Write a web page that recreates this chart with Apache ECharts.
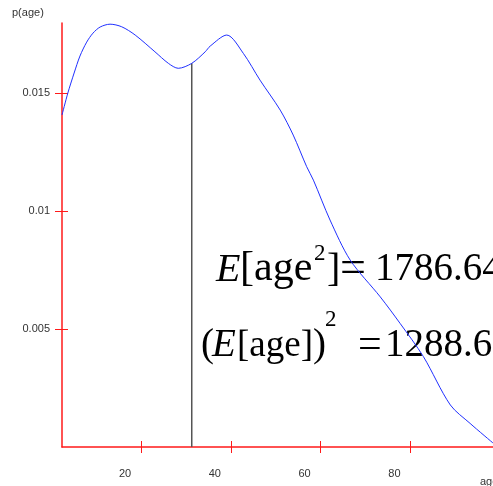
<!DOCTYPE html>
<html>
<head>
<meta charset="utf-8">
<script src="https://cdn.jsdelivr.net/npm/echarts@6/dist/echarts.min.js"></script>
<style>html,body{margin:0;padding:0;background:#fff;}#c{width:493px;height:486px;}</style>
</head>
<body>
<div id="c"></div>
<script>
// ---- data ----
var ageValues = [2.4, 3.7, 5.1, 6.4, 7.9, 9.3, 10.9, 13.1, 15.7, 18.7, 23.1, 26.1, 28.3, 31.3, 34.3, 35.4, 39.1, 42.8, 46.5, 51.0, 53.9, 56.9, 58.4, 62.1, 66.6, 73.3, 77.7, 82.9, 88.9, 93.3, 98.4];
var densityValues = [0.01407, 0.01500, 0.01585, 0.01657, 0.01716, 0.01754, 0.01780, 0.01792, 0.01781, 0.01746, 0.01675, 0.01626, 0.01605, 0.01626, 0.01675, 0.01699, 0.01746, 0.01668, 0.01555, 0.01428, 0.01322, 0.01188, 0.01131, 0.00962, 0.00792, 0.00636, 0.00524, 0.00383, 0.00178, 0.00100, 0.00017];
var xTickValues = [20, 40, 60, 80];
var yTickValues = [0.005, 0.01, 0.015];
var meanAge = 31.3;
var densityAtMean = 0.01626;
var xAxisRange = [2.4, 98.4];
var yAxisRange = [0, 0.01797];
var eqLine1 = ['E', '[age', '2', ']', '=', '1786.64'];
var eqLine2 = ['(', 'E', '[age]', ')', '2', '=', '1288.6'];

var curve = ageValues.map(function (a, i) { return [a, densityValues[i]]; });

var chart = echarts.init(document.getElementById('c'), null, {renderer: 'canvas'});
var RED = '#ff1a1a';
var labelFont = {fontFamily: 'Liberation Sans', fontSize: 11, color: '#333'};

function txt(s, x, y, size, italic) {
  return {
    type: 'text', x: x, y: y, silent: true,
    style: {
      text: s,
      font: (italic ? 'italic ' : '') + size + 'px "Liberation Serif"',
      fill: '#000',
      textAlign: 'left', align: 'left',
      textVerticalAlign: 'middle', verticalAlign: 'middle'
    }
  };
}

var SUP = 23;
var graphics = [
  {type: 'text', x: 12, y: 13, silent: true, style: {text: 'p(age)', font: '11px "Liberation Sans"', fill: '#333', textAlign: 'left', align: 'left', textVerticalAlign: 'middle', verticalAlign: 'middle'}},
  {type: 'text', x: 480, y: 482, silent: true, style: {text: 'age', font: '11px "Liberation Sans"', fill: '#333', textAlign: 'left', align: 'left', textVerticalAlign: 'middle', verticalAlign: 'middle'}},
  // line 1
  txt(eqLine1[0], 216, 270, 40, true),
  txt(eqLine1[1], 240, 269, 42, false),
  txt(eqLine1[2], 314, 254, SUP, false),
  txt(eqLine1[3], 327, 270, 40, false),
  txt(eqLine1[4], 340, 270, 46, false),
  txt(eqLine1[5], 375, 270, 39, false),
  // line 2
  txt(eqLine2[0], 201, 346, 39, false),
  txt(eqLine2[1], 212, 346, 39, true),
  txt(eqLine2[2], 237, 346, 37, false),
  txt(eqLine2[3], 313, 346, 39, false),
  txt(eqLine2[4], 325, 320, SUP, false),
  txt(eqLine2[5], 358, 346, 42, false),
  txt(eqLine2[6], 385, 346, 39, false)
];

var option = {
  animation: false,
  backgroundColor: '#fff',
  grid: {left: 62, top: 23, right: 0, bottom: 39, containLabel: false, outerBoundsMode: 'none'},
  xAxis: [
    {
      type: 'value', min: xAxisRange[0], max: xAxisRange[1], position: 'bottom',
      splitLine: {show: false},
      axisLine: {show: true, onZero: false, lineStyle: {color: RED, width: 1.5}},
      axisTick: {show: true, inside: false, length: 6, customValues: xTickValues, lineStyle: {color: RED, width: 1}},
      axisLabel: Object.assign({show: true, customValues: xTickValues, margin: 21, padding: [0, 32, 0, 0]}, labelFont)
    },
    {
      type: 'value', min: xAxisRange[0], max: xAxisRange[1], position: 'bottom',
      splitLine: {show: false},
      axisLine: {show: false},
      axisTick: {show: true, inside: true, length: 6, customValues: xTickValues, lineStyle: {color: RED, width: 1}},
      axisLabel: {show: false}
    }
  ],
  yAxis: [
    {
      type: 'value', min: yAxisRange[0], max: yAxisRange[1], position: 'left',
      splitLine: {show: false},
      axisLine: {show: true, onZero: false, lineStyle: {color: RED, width: 1.5}},
      axisTick: {show: true, inside: false, length: 7, customValues: yTickValues, lineStyle: {color: RED, width: 1}},
      axisLabel: Object.assign({show: true, customValues: yTickValues, margin: 12, padding: [8, 0, 0, 0]}, labelFont)
    },
    {
      type: 'value', min: yAxisRange[0], max: yAxisRange[1], position: 'left',
      splitLine: {show: false},
      axisLine: {show: false},
      axisTick: {show: true, inside: true, length: 6, customValues: yTickValues, lineStyle: {color: RED, width: 1}},
      axisLabel: {show: false}
    }
  ],
  series: [
    {
      type: 'line', xAxisIndex: 0, yAxisIndex: 0,
      data: [[meanAge, 0], [meanAge, densityAtMean]],
      showSymbol: false, silent: true,
      lineStyle: {color: '#555', width: 1.5}
    },
    {
      type: 'line', xAxisIndex: 0, yAxisIndex: 0,
      data: curve, showSymbol: false, silent: true,
      smooth: 0.3,
      lineStyle: {color: '#2030ff', width: 1}
    }
  ],
  graphic: graphics
};
chart.setOption(option);
</script>
</body>
</html>
